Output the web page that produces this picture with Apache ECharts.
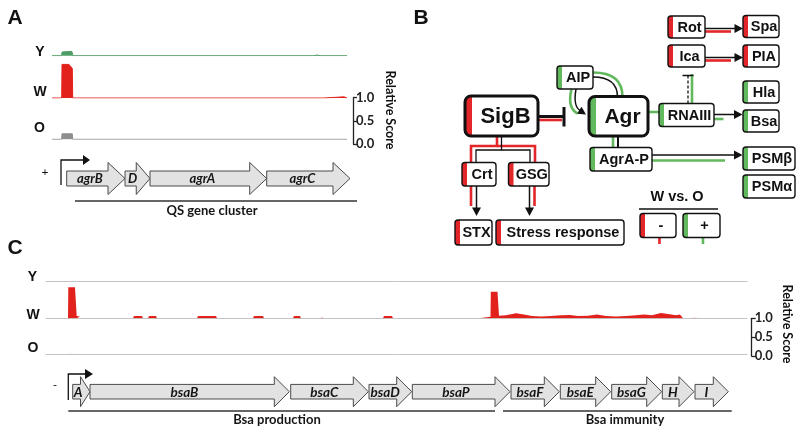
<!DOCTYPE html>
<html><head><meta charset="utf-8">
<script src="https://cdn.jsdelivr.net/npm/echarts@6/dist/echarts.min.js"></script>
<style>html,body{margin:0;padding:0;background:#fff}#c{width:800px;height:431px}</style>
</head><body><div id="c"></div>
<script>
// ================= DATA =================
const trackNames = ['Y', 'W', 'O'];
const scaleTicks = [0, 0.5, 1.0];
const scaleTitle = 'Relative Score';
const panelLetters = ['A', 'B', 'C'];

// ---- Panel A: agr locus (position in a.u. along the locus) ----
const aY_pos = [0, 9.6, 10, 10.6, 19.8, 20.7, 21, 45, 47, 49, 108, 110, 112, 170, 172, 174, 262, 265, 268, 295];
const aY_val = [0, 0, 0.08, 0.095, 0.095, 0.07, 0, 0, 0.012, 0, 0, 0.012, 0, 0, 0.012, 0, 0, 0.015, 0, 0];
const aW_pos = [0, 9.7, 10, 17, 19, 20.3, 20.7, 272, 274, 292, 295];
const aW_val = [0, 0, 0.73, 0.73, 0.71, 0.64, 0, 0, 0.025, 0.025, 0];
const aO_pos = [0, 9.7, 10, 20.3, 20.7, 60, 62, 64, 150, 152, 154, 295];
const aO_val = [0, 0, 0.12, 0.12, 0, 0, 0.01, 0, 0, 0.01, 0, 0];
const aStrand = '+';
const aGenes = ['agrB', 'D', 'agrA', 'agrC'];
const aGeneStart = [14.7, 73, 98, 214.7];
const aGeneEnd = [73, 98, 214.7, 298];
const aPromoter = [9];
const aClusters = ['QS gene cluster'];
const aClusterStart = [23];
const aClusterEnd = [305];
const aClusterLabelAt = [160];

// ---- Panel C: bsa locus ----
const cY_pos = [0, 210, 212, 214, 660, 662, 664, 701];
const cY_val = [0, 0, 0.03, 0, 0, 0.03, 0, 0];
const cW_pos = [0, 22, 22.3, 29, 30.2, 30.7, 34, 35,
  87, 88, 96, 97, 102, 103, 110, 111,
  151, 152, 170, 171, 207, 208, 217, 218,
  247, 248, 254, 255, 274, 275, 278, 279,
  337, 338, 346, 347,
  433, 434, 444.5, 444.8, 451.5, 452.7, 453, 460, 470, 478, 486, 495, 505, 515, 524, 532, 542, 551, 560, 570, 580, 590, 598, 606, 615, 622, 630, 634, 637,
  645, 646, 654, 655, 701];
const cW_val = [0, 0, 0.82, 0.82, 0.78, 0.06, 0.05, 0,
  0, 0.06, 0.06, 0, 0, 0.06, 0.06, 0,
  0, 0.06, 0.06, 0, 0, 0.06, 0.06, 0,
  0, 0.06, 0.06, 0, 0, 0.05, 0.05, 0,
  0, 0.06, 0.06, 0,
  0, 0.04, 0.04, 0.70, 0.70, 0.65, 0.07, 0.08, 0.13, 0.10, 0.06, 0.05, 0.06, 0.08, 0.09, 0.06, 0.07, 0.1, 0.06, 0.05, 0.06, 0.08, 0.1, 0.08, 0.14, 0.11, 0.08, 0.1, 0,
  0, 0.05, 0.05, 0, 0];
const cO_pos = [0, 22, 23, 30, 31, 227, 229, 231, 701];
const cO_val = [0, 0, 0.04, 0.04, 0, 0, 0.035, 0, 0];
const cStrand = '-';
const cGenes = ['A', 'bsaB', 'bsaC', 'bsaD', 'bsaP', 'bsaF', 'bsaE', 'bsaG', 'H', 'I'];
const cGeneStart = [26.7, 44, 244.7, 323, 366.3, 465, 514.3, 565.7, 616.3, 649];
const cGeneEnd = [44, 243.3, 322.3, 365.7, 464, 513.3, 564.7, 615.7, 648, 682.3];
const cPromoter = [22.3];
const cClusters = ['Bsa production', 'Bsa immunity'];
const cClusterStart = [22.3, 457];
const cClusterEnd = [449, 685.7];
const cClusterLabelAt = [231, 579];

// ---- Panel B: regulatory network ----
const nodeLabels = ['SigB', 'Agr', 'AIP', 'RNAIII', 'Rot', 'Ica', 'Spa', 'PIA', 'Hla', 'Bsa', 'AgrA-P', 'PSMβ', 'PSMα', 'Crt', 'GSG', 'STX', 'Stress response'];
const nodeEffect = ['-', '+', '+', '+', '-', '-', '-', '-', '+', '+', '+', '+', '+', '-', '-', '-', '-'];
const legendTitle = 'W vs. O';
const legendLabels = ['-', '+'];

// ================= LAYOUT / STYLE =================
const RED = '#e3262a', GRN = '#62b95d', K = '#111';
const FONT_B = '"Liberation Sans", Arial, sans-serif';
const FONT_C = 'Lato, "Open Sans", sans-serif';
const nodeBox = [
  [465, 96, 73, 40, 1], [589, 96.5, 59, 39.5, 1], [557, 66, 36, 23, 0], [659, 103.5, 55, 23, 0],
  [668, 16, 37, 22, 0], [668, 45, 37, 22, 0], [743, 15.5, 36, 22, 0], [743, 45, 36, 22, 0],
  [743, 81, 36, 22, 0], [743, 110, 36, 22, 0], [590, 147.5, 62, 23.5, 0], [743, 147, 52, 23, 0],
  [743, 175, 52, 23, 0], [462, 162.5, 34, 23.5, 0], [508.5, 162.5, 40.5, 23.5, 0], [455, 220, 37, 25, 0],
  [496, 220, 128, 25, 0]
];
const legendBox = [[640, 213.5, 36, 24], [683, 213.5, 37, 24]];

const zip = (p, v) => p.map((x, i) => [x, v[i]]);
// a gap is placed between consecutive zero points so only the coloured signal is filled
const gapZeros = (p, v) => {
  const out = [];
  p.forEach((x, i) => {
    out.push([x, v[i]]);
    if (i < p.length - 1 && v[i] === 0 && v[i + 1] === 0) out.push([(x + p[i + 1]) / 2, null]);
  });
  return out;
};

// grids: 0-2 A tracks, 3 A scale, 4 A genes, 5-7 C tracks, 8 C scale, 9 C genes
const grids = [
  {left: 52, width: 305, top: 9.7, height: 46},
  {left: 52, width: 305, top: 52, height: 46},
  {left: 52, width: 305, top: 93.3, height: 46},
  {left: 303, width: 50, top: 97.7, height: 46.3},
  {left: 52, width: 305, top: 155, height: 47},
  {left: 46, width: 701, top: 243.7, height: 38},
  {left: 46, width: 701, top: 280.3, height: 38},
  {left: 46, width: 701, top: 316, height: 38},
  {left: 700, width: 51.7, top: 318.3, height: 37.7},
  {left: 46, width: 701, top: 370, height: 43.4}
].map(g => Object.assign({outerBoundsMode: 'none', containLabel: false, show: false}, g));

const xMax = [305, 305, 305, 1, 305, 701, 701, 701, 1, 701];
const xAxes = xMax.map((m, i) => ({
  gridIndex: i, type: 'value', min: 0, max: m,
  axisLine: {show: i >= 5 && i <= 7, onZero: false, lineStyle: {color: '#c4c4c4', width: 1}},
  axisTick: {show: false}, axisLabel: {show: false}, splitLine: {show: false}
}));
const yAxes = xMax.map((m, i) => {
  const isScale = (i === 3 || i === 8);
  return {
    gridIndex: i, type: 'value', min: 0, max: 1, interval: 0.5, show: isScale,
    position: 'right',
    axisLine: {show: isScale, onZero: false, lineStyle: {color: '#222', width: 1.3}},
    axisTick: {show: isScale, inside: false, length: 4, lineStyle: {color: '#222', width: 1.3}},
    axisLabel: {show: isScale, margin: 3, formatter: v => scaleTicks.includes(v) ? v.toFixed(1) : '',
      fontFamily: FONT_C, fontWeight: 'bold', fontSize: 13, color: '#222'},
    splitLine: {show: false}
  };
});

function track(idx, data, color, lineW) {
  return {type: 'line', xAxisIndex: idx, yAxisIndex: idx, data, showSymbol: false, symbol: 'none',
    connectNulls: false, silent: true, animation: false, z: 3,
    lineStyle: {color, width: lineW, opacity: lineW ? 1 : 0},
    areaStyle: {color, opacity: 1, origin: 0}};
}

function geneSeries(idx, names, starts, ends, geo) {
  return {type: 'custom', xAxisIndex: idx, yAxisIndex: idx, clip: false, silent: true, animation: false, z: 4,
    data: starts.map((s, i) => [s, ends[i]]),
    renderItem: (params, api) => {
      const i = params.dataIndex;
      const s = api.coord([api.value(0), 0.5]);
      const e = api.coord([api.value(1), 0.5]);
      const cy = s[1], len = e[0] - s[0];
      const head = Math.min(geo.head, len * 0.55);
      const hx = e[0] - head;
      const pts = [[s[0], cy - geo.body], [hx, cy - geo.body], [hx, cy - geo.headW], [e[0], cy],
        [hx, cy + geo.headW], [hx, cy + geo.body], [s[0], cy + geo.body]];
      const lx = s[0] + (len - head * 0.7) / 2;
      return {type: 'group', children: [
        {type: 'polygon', shape: {points: pts}, style: {fill: '#e2e2e2', stroke: '#4a4a4a', lineWidth: 1}},
        {type: 'text', style: {text: names[i], x: lx, y: cy + 0.5, align: 'center', verticalAlign: 'middle',
          textAlign: 'center', textVerticalAlign: 'middle', font: geo.font, fill: '#151515'}}
      ]};
    }};
}
function promoterSeries(idx, pos, geo) {
  return {type: 'custom', xAxisIndex: idx, yAxisIndex: idx, clip: false, silent: true, animation: false, z: 5,
    data: pos.map(p => [p]),
    renderItem: (params, api) => {
      const b = api.coord([api.value(0), 0.5]);
      const x = b[0], cy = b[1], ty = cy - geo.pTop;
      return {type: 'group', children: [
        {type: 'polyline', shape: {points: [[x, cy + geo.pBottom], [x, ty], [x + geo.pLen, ty]]}, style: {stroke: K, lineWidth: 1.3, fill: null}},
        {type: 'polygon', shape: {points: [[x + geo.pLen, ty - 5], [x + geo.pLen + geo.pHead, ty], [x + geo.pLen, ty + 5]]}, style: {fill: K}}
      ]};
    }};
}
function clusterSeries(idx, names, starts, ends, labelAt, geo) {
  return {type: 'custom', xAxisIndex: idx, yAxisIndex: idx, clip: false, silent: true, animation: false, z: 4,
    data: starts.map((s, i) => [s, ends[i], labelAt[i]]),
    renderItem: (params, api) => {
      const i = params.dataIndex;
      const s = api.coord([api.value(0), 0.5]);
      const e = api.coord([api.value(1), 0.5]);
      const l = api.coord([api.value(2), 0.5]);
      const cy = s[1];
      return {type: 'group', children: [
        {type: 'line', shape: {x1: s[0], y1: cy + geo.lOff, x2: e[0], y2: cy + geo.lOff}, style: {stroke: '#333', lineWidth: 1.3}},
        {type: 'text', style: {text: names[i], x: l[0], y: cy + geo.tOff, align: 'center', verticalAlign: 'middle',
          textAlign: 'center', textVerticalAlign: 'middle', font: 'bold 13px ' + FONT_C, fill: '#151515'}}
      ]};
    }};
}

const geoA = {body: 7.5, headW: 16, head: 17, font: 'italic bold 13px ' + FONT_C, pBottom: 6.5, pTop: 18.5, pLen: 22, pHead: 7, lOff: 22.5, tOff: 32};
const geoC = {body: 7.3, headW: 15, head: 15, font: 'italic bold 13.5px ' + FONT_C, pBottom: 8.3, pTop: 17.7, pLen: 16.7, pHead: 8, lOff: 19.3, tOff: 27.8};

const series = [
  track(0, zip(aY_pos, aY_val), '#4f9d66', 1),
  track(1, zip(aW_pos, aW_val), '#e3211c', 1),
  track(2, zip(aO_pos, aO_val), '#8e8e8e', 1),
  {type: 'line', xAxisIndex: 3, yAxisIndex: 3, data: [], silent: true},
  geneSeries(4, aGenes, aGeneStart, aGeneEnd, geoA),
  promoterSeries(4, aPromoter, geoA),
  clusterSeries(4, aClusters, aClusterStart, aClusterEnd, aClusterLabelAt, geoA),
  track(5, gapZeros(cY_pos, cY_val), '#b0b0b0', 0),
  track(6, gapZeros(cW_pos, cW_val), '#e3211c', 0),
  track(7, gapZeros(cO_pos, cO_val), '#b0b0b0', 0),
  {type: 'line', xAxisIndex: 8, yAxisIndex: 8, data: [], silent: true},
  geneSeries(9, cGenes, cGeneStart, cGeneEnd, geoC),
  promoterSeries(9, cPromoter, geoC),
  clusterSeries(9, cClusters, cClusterStart, cClusterEnd, cClusterLabelAt, geoC)
];

// ================= GRAPHIC (labels + network diagram) =================
const G = [];
function txt(t, x, y, font, opt) {
  return Object.assign({type: 'text', x, y, z: 20, style: {text: t, font, fill: K, align: 'center', verticalAlign: 'middle',
    textAlign: 'center', textVerticalAlign: 'middle'}}, opt || {});
}
[[15, 18], [421, 18], [15, 248]].forEach((p, i) => G.push(txt(panelLetters[i], p[0], p[1], 'bold 21px ' + FONT_B)));
[[40, 51.7], [40, 92], [39.5, 128]].forEach((p, i) => G.push(txt(trackNames[i], p[0], p[1], 'bold 14px ' + FONT_B)));
[[32.5, 276.7], [33, 315], [33, 348]].forEach((p, i) => G.push(txt(trackNames[i], p[0], p[1], 'bold 14px ' + FONT_B)));
G.push(txt(aStrand, 45, 172, '12px ' + FONT_C));
G.push(txt(cStrand, 55, 385, '12px ' + FONT_C));
G.push(txt(scaleTitle, 390, 110, 'bold 12.5px ' + FONT_C, {rotation: -Math.PI / 2}));
G.push(txt(scaleTitle, 786.7, 324, 'bold 12.5px ' + FONT_C, {rotation: -Math.PI / 2}));

function seg(x1, y1, x2, y2, color, w, dash) {
  G.push({type: 'line', z: 10, shape: {x1, y1, x2, y2}, style: {stroke: color, lineWidth: w, lineDash: dash || null}});
}
function poly(points, color, w) {
  G.push({type: 'polyline', z: 10, shape: {points}, style: {stroke: color, lineWidth: w, fill: null}});
}
function curve(x1, y1, cpx1, cpy1, x2, y2, color, w) {
  G.push({type: 'bezierCurve', z: 10, shape: {x1, y1, x2, y2, cpx1, cpy1}, style: {stroke: color, lineWidth: w, fill: null}});
}
function head(tx, ty, ang, len, hw) {
  const c = Math.cos(ang), s = Math.sin(ang);
  const bx = tx - c * len, by = ty - s * len;
  G.push({type: 'polygon', z: 11, shape: {points: [[tx, ty], [bx - s * hw, by + c * hw], [bx + s * hw, by - c * hw]]}, style: {fill: K}});
}
function box(label, b, color, fontSize) {
  const [x, y, w, h, big] = b;
  const r = big ? 6 : 3, sw = big ? 7 : 5, lw = big ? 3 : 1.4;
  G.push({type: 'rect', z: 12, shape: {x, y, width: w, height: h, r}, style: {fill: '#fff'}});
  G.push({type: 'rect', z: 12, shape: {x, y, width: sw, height: h, r: [r, 0, 0, r]}, style: {fill: color}});
  G.push({type: 'rect', z: 12, shape: {x, y, width: w, height: h, r}, style: {fill: 'none', stroke: K, lineWidth: lw}});
  G.push(txt(label, x + sw + (w - sw) / 2 + 0.5, y + h / 2 + 0.5, 'bold ' + fontSize + 'px ' + FONT_B, {z: 13}));
}

// coloured (W vs O) tracks under the black edges
seg(705, 31.5, 731, 31.5, RED, 2.6);
seg(705, 60.5, 731, 60.5, RED, 2.6);
seg(538, 120, 562, 120, RED, 2.6);
poly([[497, 136], [497, 146], [471, 146], [471, 163]], RED, 2.6);
poly([[497, 146], [535, 146], [535, 163]], RED, 2.6);
seg(471, 186, 471, 206, RED, 2.6);
seg(534.5, 186, 534.5, 206, RED, 2.6);
curve(593, 72.5, 622.5, 72.5, 622.5, 97, GRN, 2.6);
curve(571.5, 89, 567, 108, 577.5, 113.5, GRN, 2.6);
seg(648, 112, 660, 112, GRN, 2.6);
seg(714, 119, 723.5, 119, GRN, 2.6);
seg(692, 103.5, 692, 74, GRN, 2.6);
seg(613, 136, 613, 148, GRN, 2.6);
seg(652, 160.5, 725, 160.5, GRN, 2.6);

// black edges
seg(705, 28.5, 735, 28.5, K, 1.5); head(743, 28.5, 0, 8.5, 4.5);
seg(705, 57.5, 735, 57.5, K, 1.5); head(743, 57.5, 0, 8.5, 4.5);
seg(538, 116.5, 564, 116.5, K, 3); seg(564, 107, 564, 126.5, K, 3);
curve(593, 77, 617.5, 77, 617.5, 97, K, 1.5);
curve(576, 89, 573, 106, 580, 110.5, K, 1.5);
head(586, 114.5, Math.atan2(4.5, 7), 8, 4.2);
seg(714, 114.5, 734, 114.5, K, 1.5); head(742.5, 114.5, 0, 8.5, 4.5);
seg(688, 103.5, 688, 76, K, 1.3, [3, 2]); seg(682.5, 75.5, 693.5, 75.5, K, 1.5);
seg(618, 136, 618, 148, K, 2);
seg(652, 155, 734, 155, K, 1.5); head(742.5, 155, 0, 8.5, 4.5);
poly([[501.5, 136], [501.5, 150], [476, 150], [476, 163]], K, 1.3);
poly([[501.5, 150], [530, 150], [530, 163]], K, 1.3);
seg(476.5, 186, 476.5, 208, K, 1.5); head(476.5, 216, Math.PI / 2, 8.5, 4.5);
seg(529.5, 186, 529.5, 208, K, 1.5); head(529.5, 216, Math.PI / 2, 8.5, 4.5);

nodeLabels.forEach((n, i) => {
  const fs = i === 0 ? 22 : (i === 1 ? 21 : 14.5);
  box(n, nodeBox[i], nodeEffect[i] === '-' ? RED : GRN, fs);
});

G.push(txt(legendTitle, 677, 197, 'bold 14.5px ' + FONT_B));
seg(639, 209, 718, 209, K, 1.5);
legendLabels.forEach((l, i) => {
  const b = legendBox[i];
  const col = l === '-' ? RED : GRN;
  box(l, [b[0], b[1], b[2], b[3], 0], col, 14.5);
  seg(b[0] + b[2] * 0.54, b[1] + b[3], b[0] + b[2] * 0.54, b[1] + b[3] + 6.5, col, 2.6);
});

const chart = echarts.init(document.getElementById('c'), null, {renderer: 'canvas', width: 800, height: 431});
chart.setOption({
  animation: false,
  backgroundColor: '#fff',
  grid: grids, xAxis: xAxes, yAxis: yAxes, series,
  graphic: {elements: G}
});
</script></body></html>
